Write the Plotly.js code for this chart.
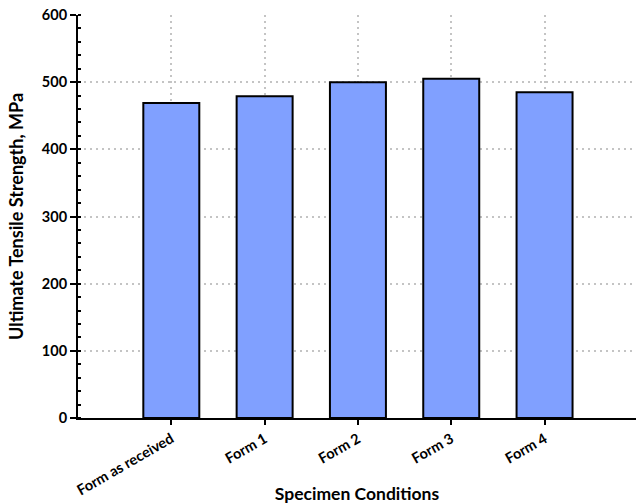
<!DOCTYPE html>
<html>
<head>
<meta charset="utf-8">
<script src="https://cdn.plot.ly/plotly-3.0.1.min.js"></script>
<style>html,body{margin:0;padding:0;background:#fff;}#chart{width:637px;height:504px;}</style>
</head>
<body>
<div id="chart"></div>
<script>
var categories = ["Form as received", "Form 1", "Form 2", "Form 3", "Form 4"];
var strengthMPa = [469, 479, 500, 505, 485];
var yTickValues = [0, 100, 200, 300, 400, 500, 600];

var FONT = "Lato, 'Open Sans', sans-serif";

var trace = {
  type: "bar",
  x: categories,
  y: strengthMPa,
  width: 0.6,
  marker: {color: "rgb(128,160,255)", line: {color: "#000", width: 2}},
  hoverinfo: "x+y"
};

var layout = {
  width: 637, height: 504,
  margin: {l: 78, r: 1, t: 15, b: 86},
  paper_bgcolor: "#fff", plot_bgcolor: "#fff",
  showlegend: false,
  font: {family: FONT, color: "#000", size: 14},
  xaxis: {
    type: "category",
    range: [-1, 4.98],
    showline: true, linecolor: "#000", linewidth: 2,
    ticks: "outside", ticklen: 5, tickwidth: 2, tickcolor: "#000",
    tickangle: -30,
    tickfont: {family: FONT, size: 14.5, color: "#000", weight: "bold"},
    showgrid: true, gridcolor: "#c4c4c4", griddash: "2px,4px", gridwidth: 2,
    zeroline: false,
    title: {text: "<b>Specimen Conditions</b>", font: {family: FONT, size: 17.5, color: "#000"}, standoff: 4}
  },
  xaxis2: {
    overlaying: "x", side: "top",
    range: [-1, 4.98],
    tickvals: [0, 1, 2, 3, 4],
    showticklabels: false,
    showline: true, linecolor: "#000", linewidth: 2,
    ticks: "inside", ticklen: 5, tickwidth: 2, tickcolor: "#000",
    showgrid: false, zeroline: false
  },
  yaxis: {
    range: [0, 600],
    tickvals: yTickValues,
    showline: true, linecolor: "#000", linewidth: 2,
    ticks: "outside", ticklen: 6, tickwidth: 2, tickcolor: "#000",
    minor: {ticks: "inside", dtick: 20, ticklen: 3, tickwidth: 2, tickcolor: "#000", showgrid: false},
    tickfont: {family: FONT, size: 14.5, color: "#000", weight: "bold"},
    showgrid: true, gridcolor: "#c4c4c4", griddash: "2px,4px", gridwidth: 2,
    zeroline: false,
    title: {text: "<b>Ultimate Tensile Strength, MPa</b>", font: {family: FONT, size: 18, color: "#000"}, standoff: 14}
  },
  yaxis2: {
    overlaying: "y", side: "right",
    range: [0, 600],
    tickvals: yTickValues,
    showticklabels: false,
    showline: true, linecolor: "#000", linewidth: 2,
    ticks: "inside", ticklen: 4, tickwidth: 2, tickcolor: "#000",
    minor: {ticks: "inside", dtick: 20, ticklen: 3, tickwidth: 2, tickcolor: "#000", showgrid: false},
    showgrid: false, zeroline: false
  }
};

Plotly.newPlot("chart", [trace], layout, {displayModeBar: false, staticPlot: true});
</script>
</body>
</html>
